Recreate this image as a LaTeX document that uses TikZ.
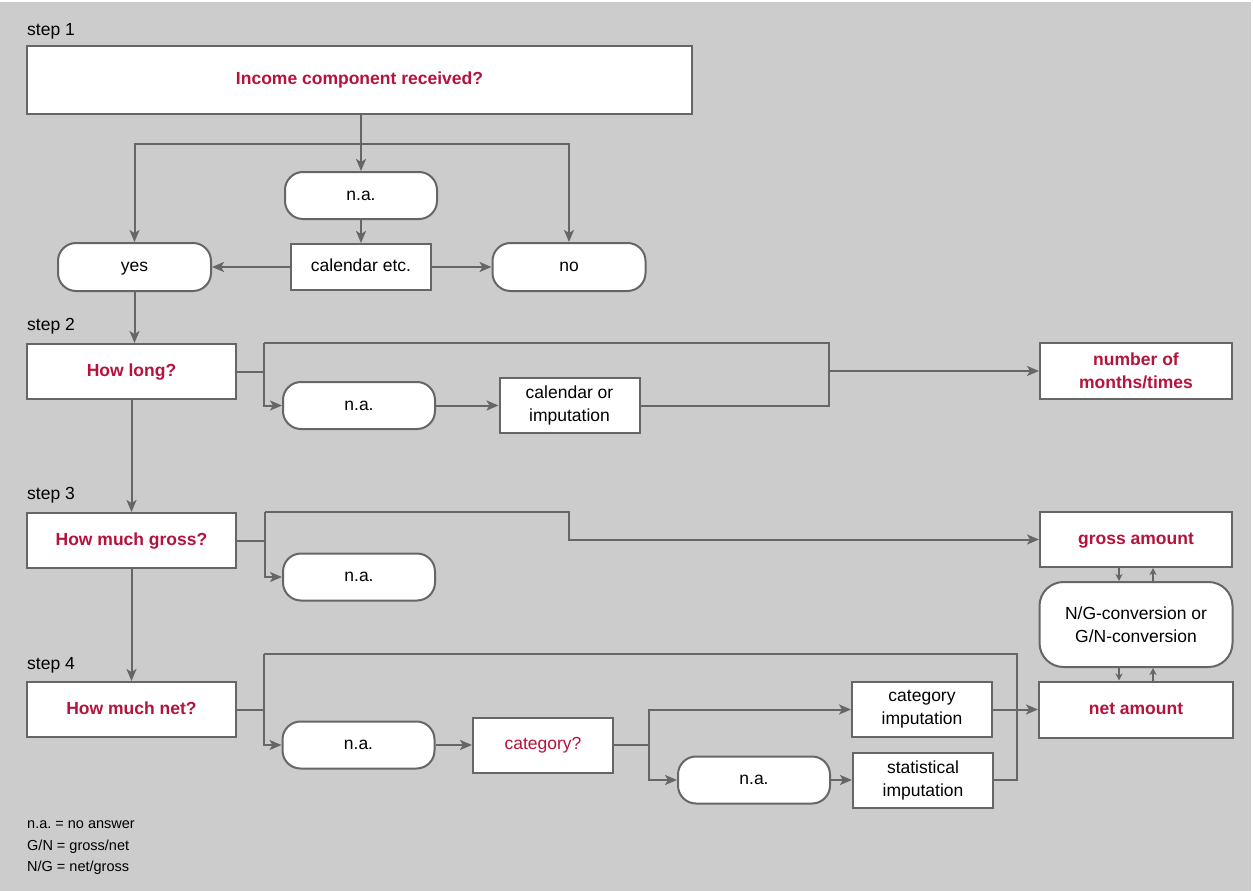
\documentclass[tikz,border=0pt]{standalone}
\usepackage{fontspec}
\setmainfont{Liberation Sans}
\usetikzlibrary{arrows.meta}
\definecolor{bg}{HTML}{CCCCCC}
\definecolor{ln}{HTML}{666666}
\definecolor{qred}{HTML}{B5123C}
\begin{document}
\begin{tikzpicture}[x=1pt,y=-1pt,
  font=\fontsize{17.5}{23}\selectfont,
  box/.style={draw=ln,line width=2pt,fill=white,rectangle,inner sep=2pt,align=center,minimum width=140pt,minimum height=55pt,text height=12.5pt,text depth=3.5pt},
  twoline/.style={text height={},text depth={}},
  pill/.style={box,rounded corners=18pt,minimum width=152pt,minimum height=47pt},
  ask/.style={text=qred,font=\fontsize{17.5}{23}\selectfont\bfseries},
  lbl/.style={anchor=west,inner sep=0pt},
  flow/.style={draw=ln,line width=2pt},
  arr/.style={flow,-{Stealth[length=12pt,width=10pt,inset=3pt]}},
  tiny/.style={flow,line width=1.5pt,-{Stealth[length=7pt,width=7pt,inset=2pt]}}]
    \useasboundingbox (0,0) rectangle (1253,891);
    \fill[white] (0,0) rectangle (1253,891);
    \fill[bg] (0,2) rectangle (1251,891);
    \node[lbl] (s1) at (27,31) {step 1};
    \node[box,ask,minimum width=665pt,minimum height=68pt] (recv) at (359.5,80) {Income component received?};
    \node[pill] (na1) at (361,195.5) {n.a.};
    \node[box,minimum height=46pt] (cal1) at (361,267) {calendar etc.};
    \node[pill,minimum width=153pt,minimum height=48pt] (yes) at (134.5,267) {yes};
    \node[pill,minimum width=153pt,minimum height=48pt] (no) at (569,267) {no};
    \coordinate (t1) at (361,144);
    \draw[arr] (recv.south -| na1) -- (na1);
    \draw[arr] (t1) -| (yes);
    \draw[arr] (t1) -| (no);
    \draw[arr] (na1) -- (cal1);
    \draw[arr] (cal1) -- (yes);
    \draw[arr] (cal1) -- (no);
    \node[lbl] (s2) at (27,326) {step 2};
    \node[box,ask,minimum width=209pt] (long) at (131.5,371.5) {How long?};
    \draw[arr] (yes) -- (yes |- long.north);
    \node[pill] (na2) at (359,405.5) {n.a.};
    \node[box,twoline] (cal2) at (569.5,405.5) {calendar or\\imputation};
    \node[box,twoline,ask,minimum width=192pt,minimum height=56pt] (months) at (1136,371) {number of\\months/times};
    \coordinate (j2) at (264,343);
    \coordinate (k2) at (829,343);
    \draw[flow] (long) -- (long -| j2);
    \draw[arr] (j2) |- (na2);
    \draw[flow] (j2) -- (k2) |- (cal2);
    \draw[arr] (k2 |- months) -- (months);
    \draw[arr] (na2) -- (cal2);
    \node[lbl] (s3) at (27,495) {step 3};
    \node[box,ask,minimum width=209pt] (askgross) at (131.5,540.5) {How much gross?};
    \draw[arr] (long) -- (askgross);
    \node[pill] (na3) at (359,577) {n.a.};
    \node[box,ask,minimum width=192pt] (gross) at (1136,539.5) {gross amount};
    \coordinate (j3) at (265,512);
    \coordinate (k3) at (569,512);
    \draw[flow] (askgross) -- (askgross -| j3);
    \draw[arr] (j3) |- (na3);
    \draw[arr] (j3) -- (k3) |- (gross);
    \node[box,twoline,rounded corners=24pt,minimum width=193pt,minimum height=85pt] (conv) at (1136,624.5) {N/G-conversion or\\G/N-conversion};
    \node[lbl] (s4) at (27,665) {step 4};
    \node[box,ask,minimum width=209pt] (asknet) at (131.5,709.5) {How much net?};
    \draw[arr] (askgross) -- (asknet);
    \node[pill] (na4) at (358.5,745) {n.a.};
    \node[box,text=qred] (cat) at (543,745) {category?};
    \node[box,twoline] (catimp) at (922,709.5) {category\\imputation};
    \node[pill] (na5) at (754,780) {n.a.};
    \node[box,twoline] (statimp) at (923,780) {statistical\\imputation};
    \node[box,ask,minimum width=194pt,minimum height=56pt] (net) at (1136,709.5) {net amount};
    \draw[tiny] ([xshift=-17pt]gross.south) -- ([xshift=-17pt]conv.north);
    \draw[tiny] ([xshift=17pt]conv.north) -- ([xshift=17pt]gross.south);
    \draw[tiny] ([xshift=-17pt]conv.south) -- ([xshift=-17pt]net.north);
    \draw[tiny] ([xshift=17pt]net.north) -- ([xshift=17pt]conv.south);
    \coordinate (j4) at (264,654);
    \coordinate (k4) at (1017,654);
    \coordinate (j5) at (649,745);
    \draw[flow] (asknet) -- (asknet -| j4);
    \draw[arr] (j4) |- (na4);
    \draw[flow] (j4) -- (k4) |- (statimp);
    \draw[arr] (na4) -- (cat);
    \draw[flow] (cat) -- (j5);
    \draw[arr] (j5) |- (catimp);
    \draw[arr] (j5) |- (na5);
    \draw[arr] (na5) -- (statimp);
    \draw[arr] (catimp) -- (net);
    \node[lbl,font=\fontsize{14.5}{17}\selectfont] (key1) at (27,825) {n.a.\ = no answer};
    \node[lbl,font=\fontsize{14.5}{17}\selectfont] (key2) at (27,847) {G/N = gross/net};
    \node[lbl,font=\fontsize{14.5}{17}\selectfont] (key3) at (27,868) {N/G = net/gross};
\end{tikzpicture}
\end{document}
